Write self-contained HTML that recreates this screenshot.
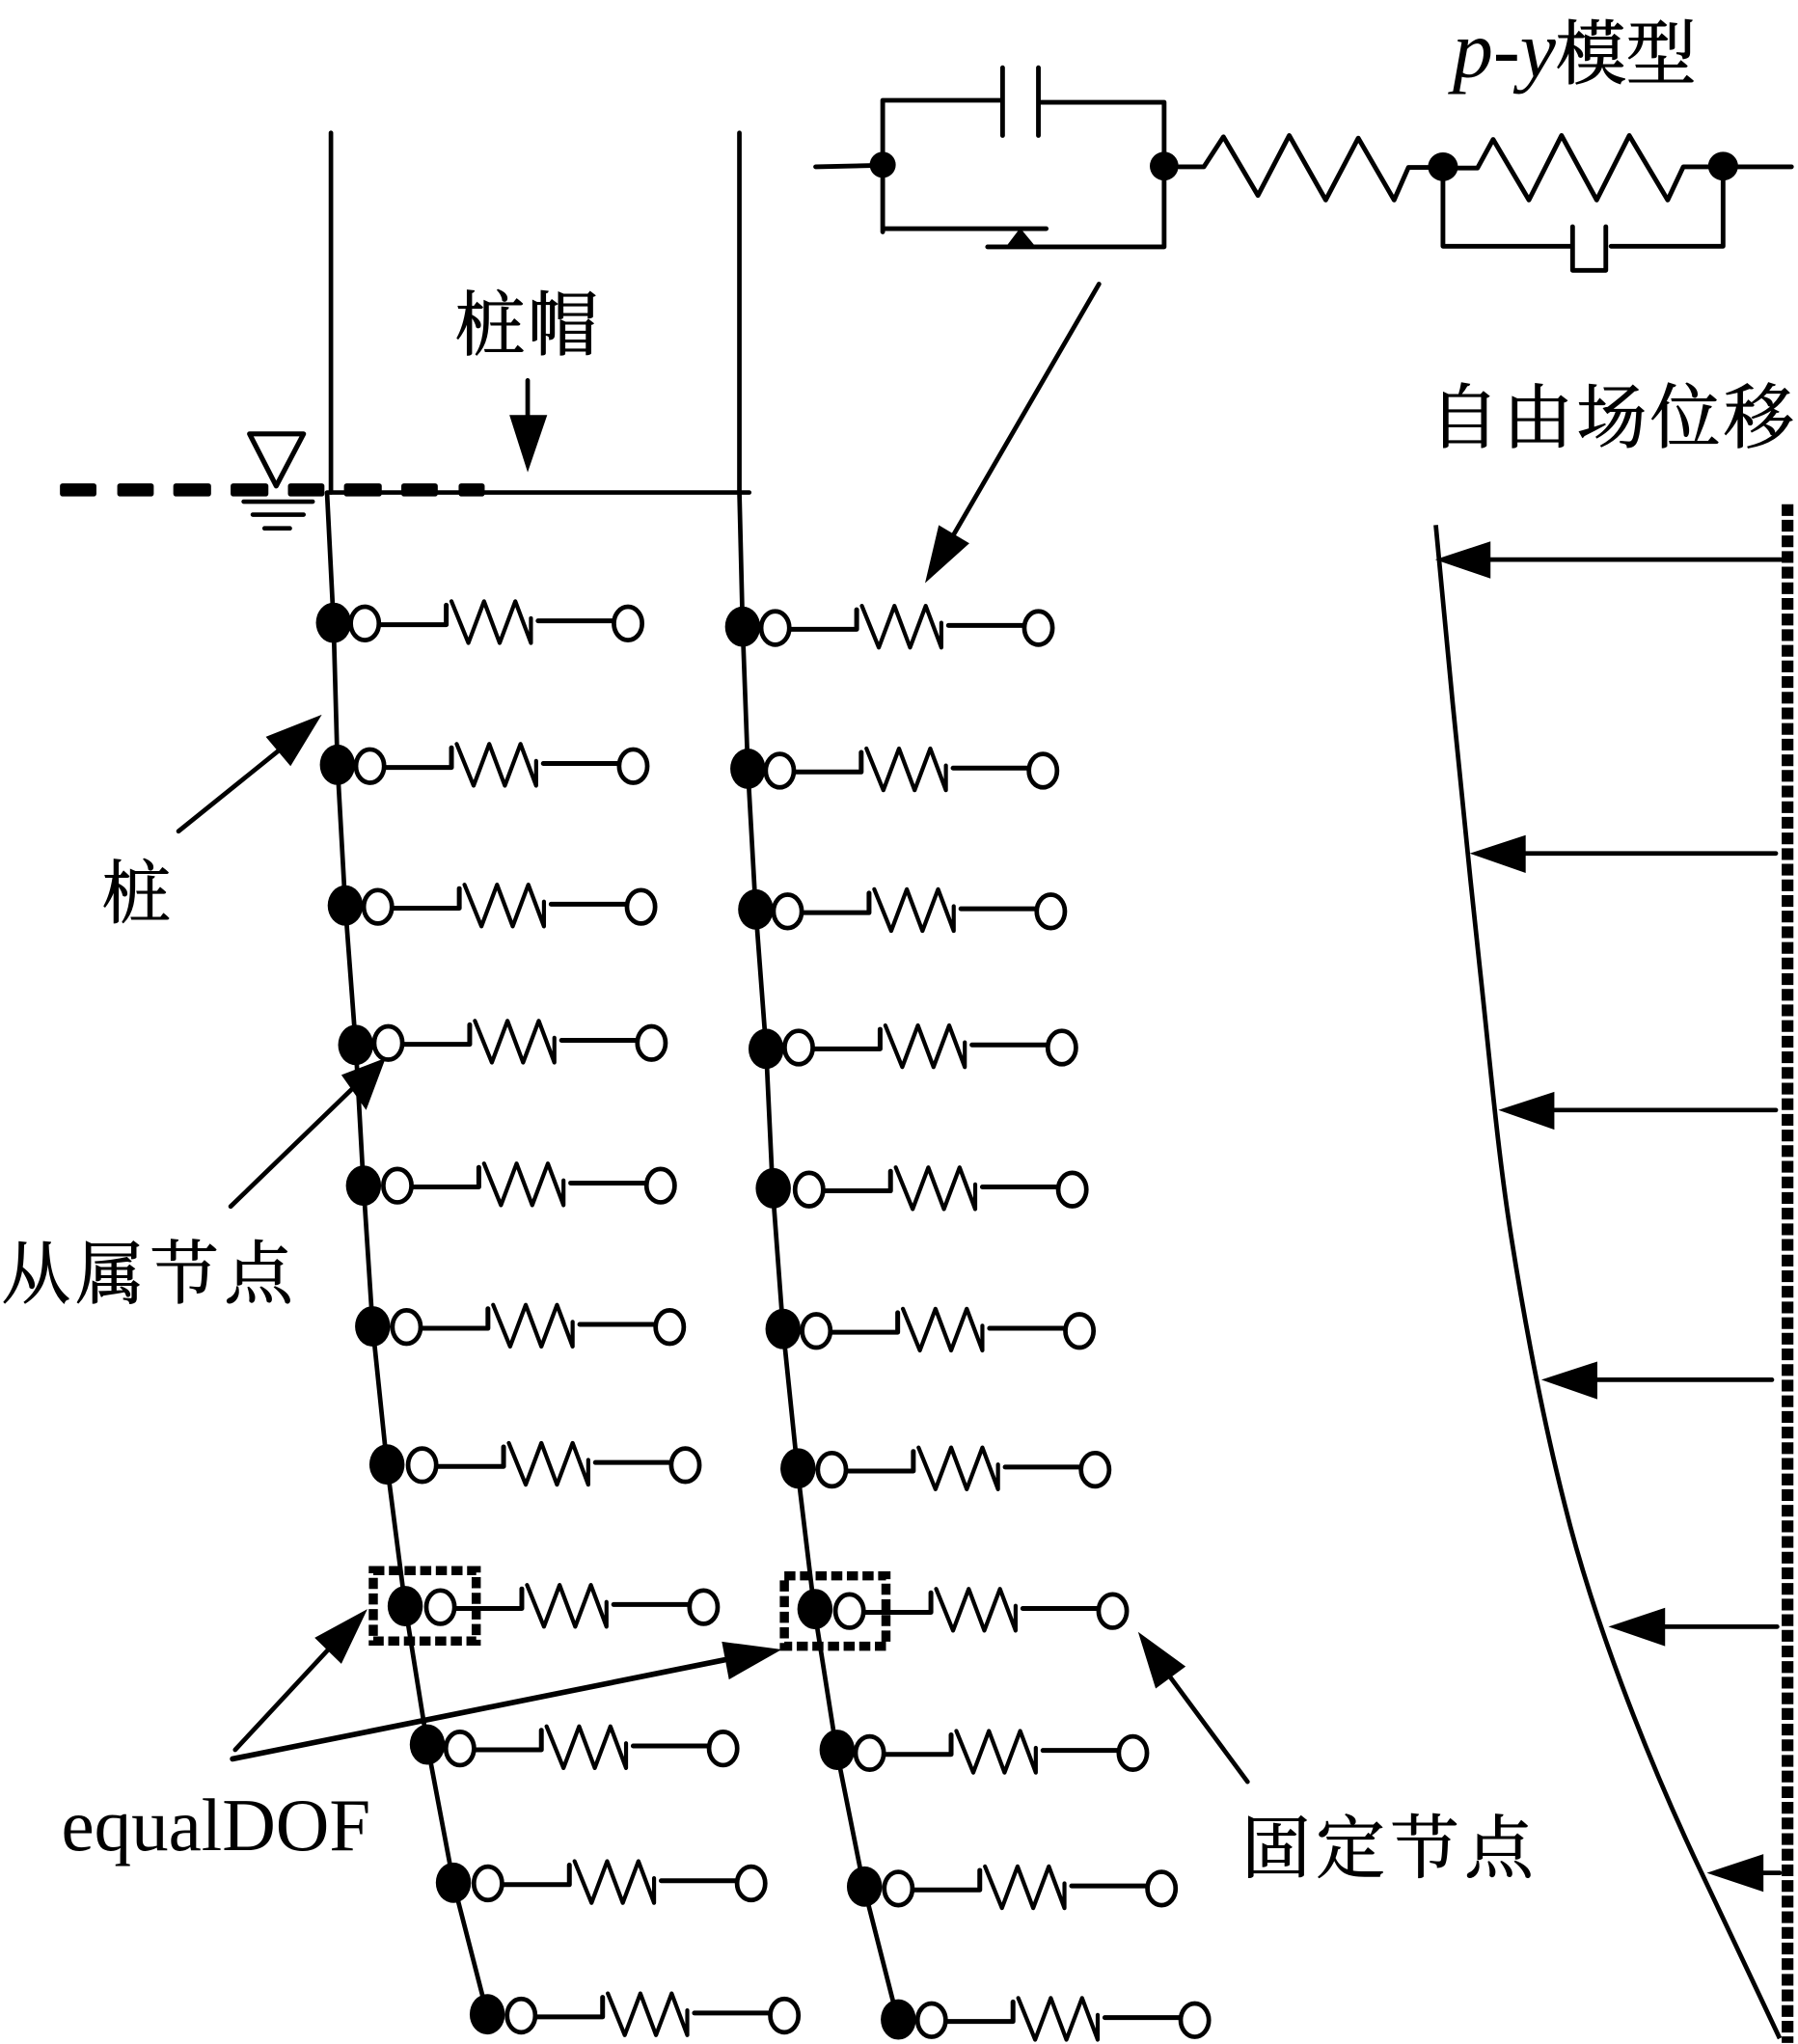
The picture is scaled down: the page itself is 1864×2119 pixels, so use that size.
<!DOCTYPE html>
<html><head><meta charset="utf-8"><style>
html,body{margin:0;padding:0;background:#fff}
svg{display:block}
text{fill:#000;font-family:"Liberation Serif","Noto Serif CJK SC",serif}
.c{stroke:#000;stroke-width:.7}
</style></head><body>
<svg width="1864" height="2119" viewBox="0 0 1380 1568.8" xmlns="http://www.w3.org/2000/svg">
<defs>
<g id="r" fill="none" stroke="#000" stroke-linejoin="round" stroke-linecap="round">
<path d="M11 1H62.500V-14" stroke-width="3.700"/>
<path d="M66.500-17L79.500 15L91.500-17L103.500 15L115.500-17L127.500 15V-4" stroke-width="3.100"/>
<path d="M133-2H191" stroke-width="3.700"/>
<ellipse cx="0" cy="0" rx="10.800" ry="12.800" fill="#fff" stroke-width="3.500"/>
<ellipse cx="202" cy="0" rx="10.800" ry="12.800" fill="#fff" stroke-width="3.500"/>
</g>
</defs>
<rect width="1380" height="1568.8" fill="#fff"/>

<!-- piles -->
<g fill="none" stroke="#000" stroke-width="3.500" stroke-linecap="round" stroke-linejoin="round">
<path d="M254 102V378"/>
<path d="M567.500 102V378"/>
<path d="M252 378H575" />
<path d="M251 378L256 478L259 587L265 695L273 802L279 910L286 1018L297 1124L311 1232.700L328 1339L348 1445L374 1546"/>
<path d="M567.500 378L570 481L574 590L580 698L588 805L593 912L601 1020L612 1127L625 1235L642 1343L663 1448L689 1550"/>
</g>

<!-- water dashes -->
<g fill="#000">
<rect x="46" y="371" width="28" height="10" rx="2"/>
<rect x="90" y="371" width="28" height="10" rx="2"/>
<rect x="133" y="371" width="29" height="10" rx="2"/>
<rect x="177" y="371" width="29" height="10" rx="2"/>
<rect x="221" y="371" width="28" height="10" rx="2"/>
<rect x="264" y="371" width="29" height="10" rx="2"/>
<rect x="308" y="371" width="28" height="10" rx="2"/>
<rect x="352" y="371" width="20" height="10" rx="2"/>
</g>
<g fill="none" stroke="#000" stroke-linecap="round" stroke-linejoin="round">
<path d="M191.500 333H233L212 373Z" stroke-width="3.800"/>
<path d="M187 385H240M194 395H233M203 405.500H222.500" stroke-width="3.400"/>
</g>

<!-- filled nodes -->
<g fill="#000">
<ellipse cx="256" cy="478" rx="13.500" ry="15.500"/><ellipse cx="259" cy="587" rx="13.500" ry="15.500"/>
<ellipse cx="265" cy="695" rx="13.500" ry="15.500"/><ellipse cx="273" cy="802" rx="13.500" ry="15.500"/>
<ellipse cx="279" cy="910" rx="13.500" ry="15.500"/><ellipse cx="286" cy="1018" rx="13.500" ry="15.500"/>
<ellipse cx="297" cy="1124" rx="13.500" ry="15.500"/><ellipse cx="311" cy="1232.700" rx="13.500" ry="15.500"/>
<ellipse cx="328" cy="1339" rx="13.500" ry="15.500"/><ellipse cx="348" cy="1445" rx="13.500" ry="15.500"/>
<ellipse cx="374" cy="1546" rx="13.500" ry="15.500"/>
<ellipse cx="570" cy="481" rx="13.500" ry="15.500"/><ellipse cx="574" cy="590" rx="13.500" ry="15.500"/>
<ellipse cx="580" cy="698" rx="13.500" ry="15.500"/><ellipse cx="588" cy="805" rx="13.500" ry="15.500"/>
<ellipse cx="593.500" cy="912" rx="13.500" ry="15.500"/><ellipse cx="601" cy="1020" rx="13.500" ry="15.500"/>
<ellipse cx="612.500" cy="1127" rx="13.500" ry="15.500"/><ellipse cx="625.500" cy="1235" rx="13.500" ry="15.500"/>
<ellipse cx="642.500" cy="1343" rx="13.500" ry="15.500"/><ellipse cx="663.500" cy="1448" rx="13.500" ry="15.500"/>
<ellipse cx="689.500" cy="1550" rx="13.500" ry="15.500"/>
</g>

<!-- rows -->
<use href="#r" x="280" y="478.500"/><use href="#r" x="284" y="588"/>
<use href="#r" x="290" y="696"/><use href="#r" x="298" y="800.500"/>
<use href="#r" x="305" y="910"/><use href="#r" x="312" y="1018.500"/>
<use href="#r" x="324" y="1124.500"/><use href="#r" x="338" y="1233.500"/>
<use href="#r" x="353" y="1342"/><use href="#r" x="374.500" y="1445.500"/>
<use href="#r" x="400" y="1547"/>
<use href="#r" x="595" y="482"/><use href="#r" x="598.500" y="591.500"/>
<use href="#r" x="604.500" y="699.500"/><use href="#r" x="613" y="804"/>
<use href="#r" x="621" y="913"/><use href="#r" x="626.500" y="1021.500"/>
<use href="#r" x="638.500" y="1128"/><use href="#r" x="652" y="1236.500"/>
<use href="#r" x="667.500" y="1345.500"/><use href="#r" x="689.500" y="1449.500"/>
<use href="#r" x="715" y="1550.500"/>

<!-- equalDOF boxes -->
<g fill="none" stroke="#000" stroke-width="7">
<rect x="286.500" y="1205.500" width="79" height="54" stroke-dasharray="8.500 3.500"/>
<rect x="602" y="1209.500" width="78" height="54" stroke-dasharray="8.500 3.500"/>
</g>

<!-- p-y circuit -->
<g fill="none" stroke="#000" stroke-width="3.600" stroke-linecap="round" stroke-linejoin="round">
<path d="M626 128L670 127"/>
<path d="M768 77H677.500V178M677.500 175.500H803"/>
<path d="M769.500 52V104M797 52V104"/>
<path d="M798 78.500H893.500V189.500H758"/>
<path d="M905 128H924L939 105L965.500 150L989.500 104L1017.500 153.500L1042.500 106L1070 153.500L1081 128.500H1109"/>
<path d="M1109 129H1134L1146 107L1173.500 153.500L1198.500 104L1225.500 153.500L1250.500 104L1280 153.500L1292 128H1375"/>
<path d="M1107.500 129V189H1205M1207 174V207.500H1232.500V174M1236.500 189H1322.500V128" />
</g>
<path d="M783 175L772 189.500H795Z" fill="#000"/>
<g fill="#000">
<ellipse cx="677.500" cy="126.500" rx="10" ry="10"/>
<ellipse cx="893.500" cy="127.500" rx="11" ry="11"/>
<ellipse cx="1107.500" cy="128" rx="11.500" ry="11"/>
<ellipse cx="1322.500" cy="127.500" rx="11.500" ry="11"/>
</g>

<!-- arrows -->
<g stroke="#000" stroke-width="3.500" stroke-linecap="round" fill="none">
<path d="M405 292V325"/>
<path d="M843.500 218L731 412"/>
<path d="M137 638L214 576"/>
<path d="M177 926L270 836"/>
<path d="M180.500 1343L252 1266"/>
<path d="M178.500 1350L556 1274" stroke-width="4.200"/>
<path d="M957.500 1367.500L898 1287"/>
<path d="M1144 429.500H1367M1171 655H1363M1193 852H1363M1226 1059H1360M1278 1248.500H1364M1353 1437.500H1366" />
</g>
<g fill="#000">
<path d="M405 362.500L391 318.500H420Z"/>
<path d="M710 447.500L720.500 403L744 417Z"/>
<path d="M247 548.500L204 565.500L223 588Z"/>
<path d="M296 812L262 825L281 852Z"/>
<path d="M282 1235L241.500 1257L262 1277Z"/>
<path d="M600 1266L554 1260L559.500 1289Z"/>
<path d="M873.500 1252.500L910 1279L887 1296Z"/>
<path d="M1101.500 429.500L1144 415.500V444Z"/>
<path d="M1128 655L1171 641V670Z"/>
<path d="M1150 852L1193 838V867Z"/>
<path d="M1183 1059L1226 1045V1074Z"/>
<path d="M1234.500 1248.500L1278 1234V1263.500Z"/>
<path d="M1310 1437.500L1353.500 1423V1452Z"/>
</g>

<!-- free field -->
<path d="M1372 387V1568" stroke="#000" stroke-width="9" stroke-dasharray="9 3" fill="none"/>
<path d="M1102 403C1104.200 425.800 1109.300 483 1115 540C1120.700 597 1128.500 676.700 1136 745C1143.500 813.300 1149.200 881.700 1160 950C1170.800 1018.300 1185.300 1093.200 1201 1155C1222 1240 1262 1345 1306 1437.500C1325 1478 1350 1530 1366 1564.500" fill="none" stroke="#000" stroke-width="3.500" stroke-linejoin="round"/>

<!-- labels -->
<text x="1115" y="59" font-size="62" font-style="italic">p-y</text>
<text class="c" x="1194" y="60" font-size="54">模型</text>
<text class="c" x="349" y="268" font-size="54" letter-spacing="2">桩帽</text>
<text class="c" x="1097" y="339" font-size="54" letter-spacing="2.500">自由场位移</text>
<text class="c" x="78" y="704" font-size="53">桩</text>
<text class="c" x="1" y="996" font-size="53" letter-spacing="4">从属节点</text>
<text x="47" y="1420" font-size="57">equalDOF</text>
<text class="c" x="953" y="1437" font-size="53" letter-spacing="4">固定节点</text>
</svg>
</body></html>
